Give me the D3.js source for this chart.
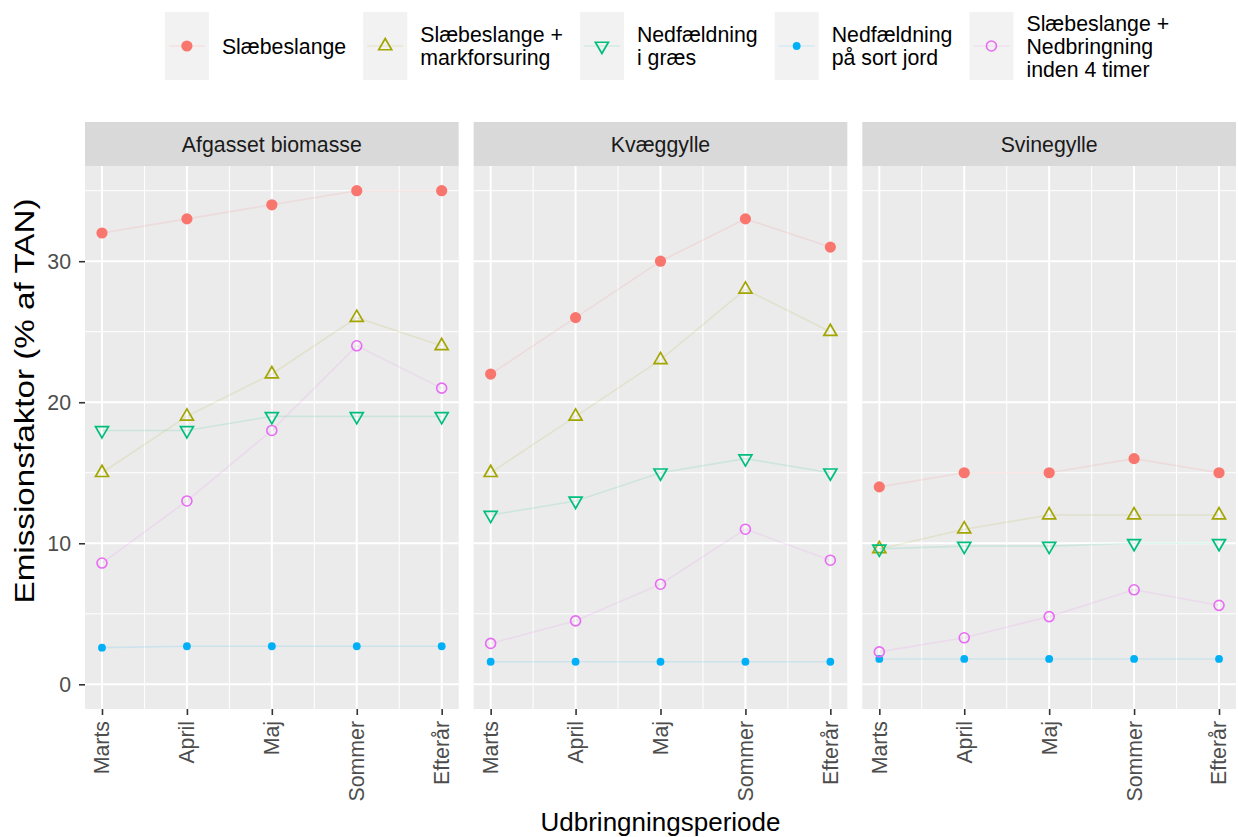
<!DOCTYPE html>
<html>
<head>
<meta charset="utf-8">
<script src="https://cdn.jsdelivr.net/npm/d3@7"></script>
<style>
  body { margin: 0; background: #fff; }
  text { font-family: "Liberation Sans", Arial, Helvetica, sans-serif; }
</style>
</head>
<body>
<svg id="chart" width="1238" height="837"></svg>
<script>
// ---- data ----
const periods = ["Marts", "April", "Maj", "Sommer", "Efterår"];
const facets = ["Afgasset biomasse", "Kvæggylle", "Svinegylle"];
const methods = [
  "Slæbeslange",
  "Slæbeslange + markforsuring",
  "Nedfældning i græs",
  "Nedfældning på sort jord",
  "Slæbeslange + Nedbringning inden 4 timer"
];
const legendLabels = [
  ["Slæbeslange"],
  ["Slæbeslange +", "markforsuring"],
  ["Nedfældning", "i græs"],
  ["Nedfældning", "på sort jord"],
  ["Slæbeslange +", "Nedbringning", "inden 4 timer"]
];
// one row per method, one value per period
const afgassetBiomasse = [
  [32, 33, 34, 35, 35],
  [15, 19, 22, 26, 24],
  [18, 18, 19, 19, 19],
  [2.6, 2.7, 2.7, 2.7, 2.7],
  [8.6, 13, 18, 24, 21]
];
const kvaeggylle = [
  [22, 26, 30, 33, 31],
  [15, 19, 23, 28, 25],
  [12, 13, 15, 16, 15],
  [1.6, 1.6, 1.6, 1.6, 1.6],
  [2.9, 4.5, 7.1, 11, 8.8]
];
const svinegylle = [
  [14, 15, 15, 16, 15],
  [9.6, 11, 12, 12, 12],
  [9.6, 9.8, 9.8, 10, 10],
  [1.8, 1.8, 1.8, 1.8, 1.8],
  [2.3, 3.3, 4.8, 6.7, 5.6]
];
const facetValues = [afgassetBiomasse, kvaeggylle, svinegylle];
const yTicks = [0, 10, 20, 30];
const yMinor = [5, 15, 25, 35];
const colors = ["#F8766D", "#A3A500", "#00BF7D", "#00B0F6", "#E76BF3"];
const yTitle = "Emissionsfaktor (% af TAN)";
const xTitle = "Udbringningsperiode";

// ---- layout ----
const svg = d3.select("#chart");
const plotLeft = 85, plotRight = 1236, panelGap = 15;
const panelTop = 166, panelBottom = 709, stripTop = 122;
const panelW = (plotRight - plotLeft - 2 * panelGap) / 3;
const panelH = panelBottom - panelTop;

const x = d3.scaleLinear().domain([0.8, 5.2]).range([0, panelW]);
const y = d3.scaleLinear().domain([-1.75, 36.75]).range([panelH, 0]);

// point glyphs per method
function drawShape(sel, i, color) {
  const r = 7.5;
  if (i === 0) {
    sel.append("circle").attr("r", 5.6).attr("fill", color);
  } else if (i === 1) {
    sel.append("path")
      .attr("d", `M0,${-r}L${r * 0.866},${r / 2}L${-r * 0.866},${r / 2}Z`)
      .attr("fill", "none").attr("stroke", color).attr("stroke-width", 1.7);
  } else if (i === 2) {
    sel.append("path")
      .attr("d", `M0,${r}L${r * 0.866},${-r / 2}L${-r * 0.866},${-r / 2}Z`)
      .attr("fill", "none").attr("stroke", color).attr("stroke-width", 1.7);
  } else if (i === 3) {
    sel.append("circle").attr("r", 3.9).attr("fill", color);
  } else {
    sel.append("circle").attr("r", 5).attr("fill", "none")
      .attr("stroke", color).attr("stroke-width", 1.6);
  }
}

facets.forEach((facet, f) => {
  const px = plotLeft + f * (panelW + panelGap);
  const g = svg.append("g").attr("transform", `translate(${px},${panelTop})`);

  // strip
  svg.append("rect").attr("x", px).attr("y", stripTop)
    .attr("width", panelW).attr("height", panelTop - stripTop).attr("fill", "#D9D9D9");
  svg.append("text").attr("x", px + panelW / 2).attr("y", (stripTop + panelTop) / 2)
    .attr("dy", "0.36em").attr("text-anchor", "middle")
    .attr("font-size", 21.3).attr("fill", "#1A1A1A").text(facet);

  // panel background and grid
  g.append("rect").attr("width", panelW).attr("height", panelH).attr("fill", "#EBEBEB");
  yMinor.forEach(v => g.append("line").attr("x1", 0).attr("x2", panelW)
    .attr("y1", y(v)).attr("y2", y(v)).attr("stroke", "#fff").attr("stroke-width", 1));
  [1.5, 2.5, 3.5, 4.5].forEach(v => g.append("line").attr("y1", 0).attr("y2", panelH)
    .attr("x1", x(v)).attr("x2", x(v)).attr("stroke", "#fff").attr("stroke-width", 1));
  yTicks.forEach(v => g.append("line").attr("x1", 0).attr("x2", panelW)
    .attr("y1", y(v)).attr("y2", y(v)).attr("stroke", "#fff").attr("stroke-width", 2));
  periods.forEach((p, i) => g.append("line").attr("y1", 0).attr("y2", panelH)
    .attr("x1", x(i + 1)).attr("x2", x(i + 1)).attr("stroke", "#fff").attr("stroke-width", 2));

  // x axis ticks and rotated labels
  const xa = g.append("g").attr("transform", `translate(0,${panelH})`)
    .call(d3.axisBottom(x).tickValues([1, 2, 3, 4, 5]).tickSize(6).tickFormat(""));
  xa.select(".domain").remove();
  xa.selectAll(".tick line").attr("stroke", "#333").attr("stroke-width", 1.6);
  periods.forEach((p, i) => {
    g.append("text")
      .attr("transform", `translate(${x(i + 1)},${panelH + 12}) rotate(-90)`)
      .attr("text-anchor", "end").attr("dy", "0.35em")
      .attr("font-size", 21.3).attr("fill", "#4D4D4D").text(p);
  });

  // lines and points
  const line = d3.line().x((d, i) => x(i + 1)).y(d => y(d));
  facetValues[f].forEach((vals, m) => {
    g.append("path").attr("d", line(vals)).attr("fill", "none")
      .attr("stroke", colors[m]).attr("stroke-opacity", 0.13).attr("stroke-width", 1.6);
  });
  facetValues[f].forEach((vals, m) => {
    vals.forEach((v, i) => {
      const pg = g.append("g").attr("transform", `translate(${x(i + 1)},${y(v)})`);
      drawShape(pg, m, colors[m]);
    });
  });

  // y axis on first panel only
  if (f === 0) {
    const ya = g.append("g").call(d3.axisLeft(y).tickValues(yTicks).tickSize(6).tickPadding(8));
    ya.select(".domain").remove();
    ya.selectAll(".tick line").attr("stroke", "#333").attr("stroke-width", 1.6);
    ya.selectAll(".tick text").attr("font-size", 21.3).attr("fill", "#4D4D4D")
      .attr("font-family", "Liberation Sans, Arial, sans-serif");
  }
});

// axis titles
svg.append("text").attr("x", (plotLeft + plotRight) / 2).attr("y", 831)
  .attr("text-anchor", "middle").attr("font-size", 26).attr("fill", "#000").text(xTitle);
svg.append("text").attr("transform", "translate(34,401) rotate(-90)")
  .attr("text-anchor", "middle").attr("font-size", 28).attr("fill", "#000")
  .attr("textLength", 405).attr("lengthAdjust", "spacingAndGlyphs").text(yTitle);

// legend
const legend = svg.append("g");
const keyW = 44, keyTop = 12, keyH = 68, keyMid = keyTop + keyH / 2;
let cursor = 0;
legendLabels.forEach((lines, m) => {
  const kg = legend.append("g").attr("transform", `translate(${cursor},0)`);
  kg.append("rect").attr("y", keyTop).attr("width", keyW).attr("height", keyH).attr("fill", "#F2F2F2");
  kg.append("line").attr("x1", 4).attr("x2", keyW - 4).attr("y1", keyMid).attr("y2", keyMid)
    .attr("stroke", colors[m]).attr("stroke-opacity", 0.13).attr("stroke-width", 1.6);
  drawShape(kg.append("g").attr("transform", `translate(${keyW / 2},${keyMid})`), m, colors[m]);
  const t = kg.append("text").attr("font-size", 21.3).attr("fill", "#000");
  const first = keyMid + 7.6 - (lines.length - 1) * 23 / 2;
  lines.forEach((ln, j) => t.append("tspan").attr("x", keyW + 13).attr("y", first + j * 23).text(ln));
  const w = t.node().getBBox().width;
  cursor += keyW + 13 + w + 17;
});
const legendW = cursor - 17;
legend.attr("transform", `translate(${667 - legendW / 2},0)`);
</script>
</body>
</html>
